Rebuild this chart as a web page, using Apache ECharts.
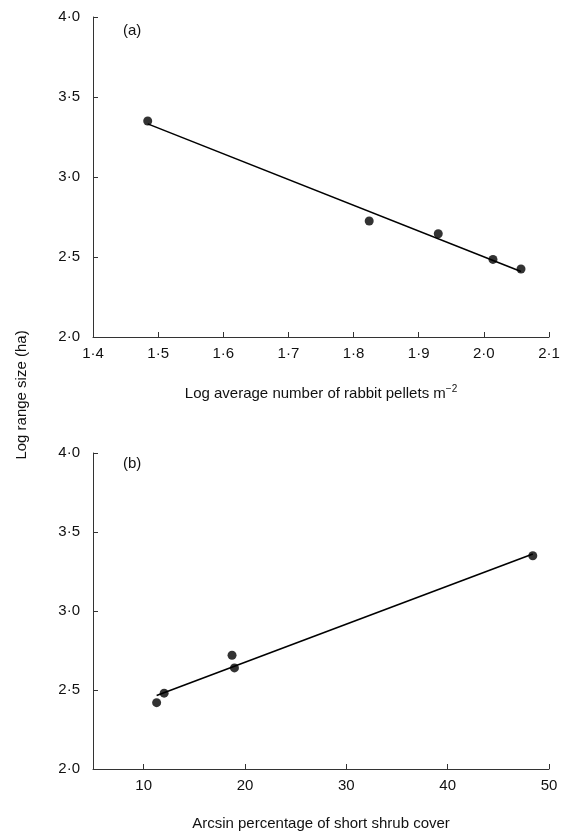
<!DOCTYPE html>
<html>
<head>
<meta charset="utf-8">
<script src="https://cdn.jsdelivr.net/npm/echarts@6/dist/echarts.min.js"></script>
<style>
html,body{margin:0;padding:0;background:#fff;}
#chart{width:575px;height:832px;}
</style>
</head>
<body>
<div id="chart"></div>
<script>
// Panel (a): log average number of rabbit pellets vs log range size
const pelletsX = [1.484, 1.824, 1.930, 2.014, 2.057];
const rangeA = [3.35, 2.725, 2.645, 2.485, 2.425];
const fitA = [[1.484, 3.332], [2.057, 2.409]];
// Panel (b): arcsin percentage of short shrub cover vs log range size
const shrubX = [48.4, 18.72, 18.96, 12.02, 11.28];
const rangeB = [3.35, 2.72, 2.64, 2.48, 2.42];
const fitB = [[11.28, 2.465], [48.4, 3.36]];
const yTicks = [2.0, 2.5, 3.0, 3.5, 4.0];
const xTicksA = [1.4, 1.5, 1.6, 1.7, 1.8, 1.9, 2.0, 2.1];
const xTicksB = [10, 20, 30, 40, 50];

const FONT = 'Liberation Sans';
const dot = v => v.toFixed(1).replace('.', '\u00B7');
const axisLine = {show: true, lineStyle: {color: '#333', width: 1}};
const axisTick = {show: true, inside: true, length: 5, lineStyle: {color: '#333', width: 1}};
const lbl = {color: '#111', fontFamily: FONT, fontSize: 15};

const chart = echarts.init(document.getElementById('chart'), null, {renderer: 'canvas'});
const option = {
  backgroundColor: '#fff',
  animation: false,
  grid: [
    {left: 93, right: 26, top: 17, height: 320},
    {left: 93, right: 26, top: 453, height: 320}
  ],
  xAxis: [
    {gridIndex: 0, type: 'value', min: 1.4, max: 2.1,
     axisLine, axisTick: Object.assign({customValues: xTicksA}, axisTick), splitLine: {show: false},
     axisLabel: Object.assign({margin: 9, customValues: xTicksA, formatter: dot}, lbl),
     name: 'Log average number of rabbit pellets m{sup|\u22122}', nameLocation: 'middle', nameGap: 47,
     nameTextStyle: {color: '#111', fontFamily: FONT, fontSize: 15,
       rich: {sup: {fontFamily: FONT, fontSize: 10, color: '#111', padding: [0, 0, 9, 0]}}}},
    {gridIndex: 1, type: 'value', min: 5, max: 50,
     axisLine, axisTick: Object.assign({customValues: xTicksB}, axisTick), splitLine: {show: false},
     axisLabel: Object.assign({margin: 9, customValues: xTicksB}, lbl),
     name: 'Arcsin percentage of short shrub cover', nameLocation: 'middle', nameGap: 47,
     nameTextStyle: {color: '#111', fontFamily: FONT, fontSize: 15}}
  ],
  yAxis: [
    {gridIndex: 0, type: 'value', min: 2, max: 4, interval: 0.5,
     axisLine, axisTick, splitLine: {show: false},
     axisLabel: Object.assign({margin: 13, customValues: yTicks, formatter: dot}, lbl)},
    {gridIndex: 1, type: 'value', min: 2, max: 4, interval: 0.5,
     axisLine, axisTick, splitLine: {show: false},
     axisLabel: Object.assign({margin: 13, customValues: yTicks, formatter: dot}, lbl)}
  ],
  graphic: [
    {type: 'text', x: 22, y: 395, rotation: Math.PI / 2,
     style: {text: 'Log range size (ha)', fill: '#111', font: '15px "Liberation Sans"', align: 'center', verticalAlign: 'middle'}},
    {type: 'text', x: 123, y: 31,
     style: {text: '(a)', fill: '#111', font: '15px "Liberation Sans"', align: 'left', verticalAlign: 'middle'}},
    {type: 'text', x: 123, y: 464,
     style: {text: '(b)', fill: '#111', font: '15px "Liberation Sans"', align: 'left', verticalAlign: 'middle'}}
  ],
  series: [
    {type: 'line', xAxisIndex: 0, yAxisIndex: 0, data: fitA, symbol: 'none',
     lineStyle: {color: '#000', width: 1.6}, silent: true},
    {type: 'scatter', xAxisIndex: 0, yAxisIndex: 0, data: pelletsX.map((x, i) => [x, rangeA[i]]),
     symbolSize: 9, itemStyle: {color: '#000'}},
    {type: 'line', xAxisIndex: 1, yAxisIndex: 1, data: fitB, symbol: 'none',
     lineStyle: {color: '#000', width: 1.6}, silent: true},
    {type: 'scatter', xAxisIndex: 1, yAxisIndex: 1, data: shrubX.map((x, i) => [x, rangeB[i]]),
     symbolSize: 9, itemStyle: {color: '#000'}}
  ]
};
chart.setOption(option);
</script>
</body>
</html>
